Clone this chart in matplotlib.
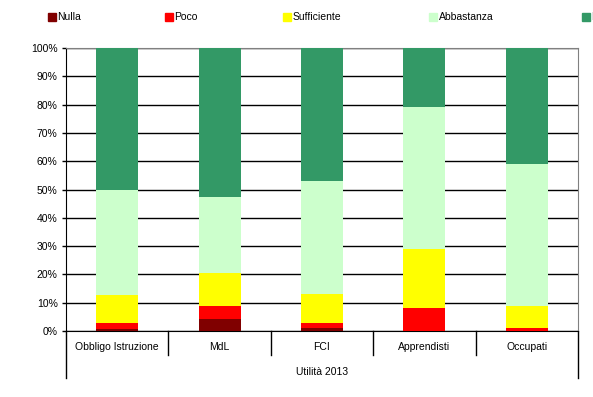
import matplotlib.pyplot as plt
import numpy as np
from matplotlib.patches import Rectangle

plt.rcParams['font.family'] = ['Liberation Sans', 'DejaVu Sans']

categories = ["Obbligo Istruzione", "MdL", "FCI", "Apprendisti", "Occupati"]
group_label = "Utilità 2013"
levels = ["Nulla", "Poco", "Sufficiente", "Abbastanza", "Molto"]
colors = ["#800000", "#FF0000", "#FFFF00", "#CCFFCC", "#339966"]

nulla = [0.7, 4.2, 1.1, 0.0, 0.0]
poco = [2.2, 4.6, 1.7, 8.1, 1.2]
sufficiente = [9.8, 11.8, 10.3, 21.0, 7.7]
abbastanza = [37.1, 26.9, 39.9, 50.2, 50.2]
molto = [50.2, 52.5, 47.0, 20.7, 40.9]

series = [nulla, poco, sufficiente, abbastanza, molto]

fig = plt.figure(figsize=(5.93, 3.97), dpi=100)
ax = fig.add_axes([66 / 593, 66 / 397, 512 / 593, 283 / 397])

x = np.arange(len(categories))
bottom = np.zeros(len(categories))
for vals, col, name in zip(series, colors, levels):
    ax.bar(x, vals, width=0.41, bottom=bottom, color=col, label=name, zorder=3)
    bottom += np.array(vals)

ax.set_xlim(-0.5, len(categories) - 0.5)
ax.set_ylim(0, 100)
ax.set_yticks(np.arange(0, 101, 10))
ax.set_yticklabels([f"{v}%" for v in range(0, 101, 10)], fontsize=7.5)
ax.yaxis.grid(True, color="black", linewidth=1, zorder=0)
ax.tick_params(axis="y", length=3, width=1, pad=3, colors="black")

ax.set_xticks([])
for s in ["top", "right"]:
    ax.spines[s].set_color("#808080")
for s in ["left", "bottom"]:
    ax.spines[s].set_color("black")

# category labels and separators
trans = ax.get_xaxis_transform()
h = 283.0
for i, c in enumerate(categories):
    ax.text(i, -16 / h, c, transform=trans, ha="center", va="center", fontsize=7.5)
for b in np.arange(0.5, len(categories) - 1, 1.0):
    ax.plot([b, b], [0, -24 / h], transform=trans, color="black", lw=1, clip_on=False)
for b in [-0.5, len(categories) - 0.5]:
    ax.plot([b, b], [0, -47 / h], transform=trans, color="black", lw=1, clip_on=False)
ax.text((len(categories) - 1) / 2, -41 / h, group_label, transform=trans,
        ha="center", va="center", fontsize=7.5)

# legend along the top (last entry runs off the right edge, as in the original)
leg_x = [48, 165, 283, 429, 582]
for lx, col, name in zip(leg_x, colors, levels):
    fig.patches.append(Rectangle((lx / 593, (397 - 21) / 397), 8 / 593, 8 / 397,
                                 transform=fig.transFigure, color=col))
    fig.text((lx + 9.5) / 593, (397 - 17) / 397, name, fontsize=7.5, va="center", ha="left")

fig.savefig("out.png", dpi=100)
